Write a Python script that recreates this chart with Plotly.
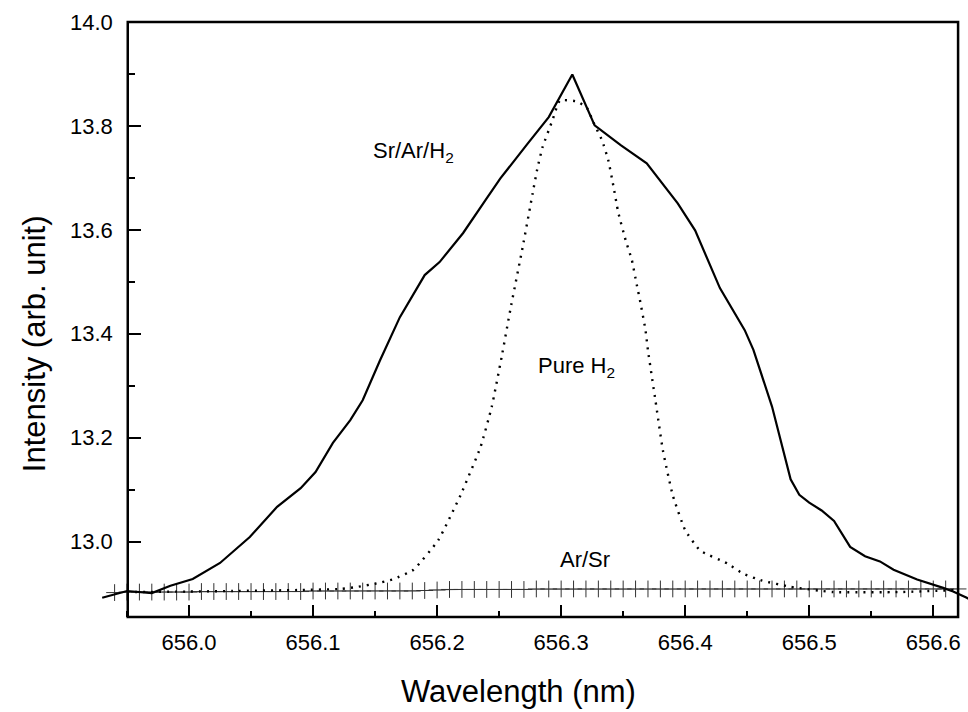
import plotly.graph_objects as go

# ---------------- data ----------------
sr_ar_h2_x = [655.930, 655.950, 655.970, 655.985, 656.003, 656.025, 656.049, 656.071, 656.090,
              656.102, 656.116, 656.130, 656.140, 656.154, 656.170, 656.190, 656.202, 656.221,
              656.239, 656.251, 656.273, 656.290, 656.309, 656.327, 656.348, 656.369, 656.394,
              656.408, 656.428, 656.448, 656.455, 656.470, 656.485, 656.492, 656.500, 656.510,
              656.520, 656.533, 656.545, 656.557, 656.568, 656.587, 656.608, 656.616,
              656.627, 656.635]
sr_ar_h2_y = [12.892, 12.905, 12.901, 12.915, 12.928, 12.959, 13.009, 13.067, 13.103,
              13.134, 13.190, 13.234, 13.272, 13.349, 13.432, 13.513, 13.538, 13.594,
              13.657, 13.699, 13.766, 13.817, 13.899, 13.801, 13.763, 13.728, 13.651,
              13.599, 13.488, 13.407, 13.369, 13.260, 13.120, 13.090, 13.075, 13.060,
              13.040, 12.990, 12.972, 12.962, 12.946, 12.927, 12.911, 12.904,
              12.892, 12.880]

pure_h2_x = [655.950, 656.000, 656.035, 656.090, 656.122, 656.136, 656.150, 656.165, 656.181,
             656.201, 656.219, 656.235, 656.244, 656.252, 656.259, 656.269, 656.277, 656.281,
             656.285, 656.293, 656.299, 656.313, 656.321, 656.326, 656.333, 656.338, 656.342,
             656.346, 656.352, 656.357, 656.361, 656.364, 656.368, 656.370, 656.376, 656.382,
             656.390, 656.400, 656.412, 656.434, 656.447, 656.462, 656.485, 656.519, 656.573,
             656.620]
pure_h2_y = [12.903, 12.904, 12.905, 12.907, 12.909, 12.913, 12.919, 12.928, 12.946,
             13.003, 13.090, 13.182, 13.259, 13.355, 13.446, 13.567, 13.670, 13.720,
             13.759, 13.811, 13.849, 13.847, 13.834, 13.807, 13.772, 13.734, 13.686,
             13.634, 13.580, 13.542, 13.494, 13.459, 13.407, 13.368, 13.272, 13.176,
             13.089, 13.022, 12.983, 12.958, 12.938, 12.925, 12.913, 12.903, 12.903,
             12.907]

ar_sr_x = [655.94, 655.95, 655.96, 655.97, 655.98, 655.99, 656.00, 656.01, 656.02, 656.03,
           656.04, 656.05, 656.06, 656.07, 656.08, 656.09, 656.10, 656.11, 656.12, 656.13,
           656.14, 656.15, 656.16, 656.17, 656.18, 656.19, 656.20, 656.21, 656.22, 656.23,
           656.24, 656.25, 656.26, 656.27, 656.28, 656.29, 656.30, 656.31, 656.32, 656.33,
           656.34, 656.35, 656.36, 656.37, 656.38, 656.39, 656.40, 656.41, 656.42, 656.43,
           656.44, 656.45, 656.46, 656.47, 656.48, 656.49, 656.50, 656.51, 656.52, 656.53,
           656.54, 656.55, 656.56, 656.57, 656.58, 656.59, 656.60, 656.61, 656.62]
ar_sr_y = [12.902, 12.903, 12.903, 12.903, 12.903, 12.903, 12.903, 12.904, 12.904, 12.904,
           12.904, 12.904, 12.904, 12.904, 12.904, 12.904, 12.905, 12.905, 12.905, 12.905,
           12.905, 12.905, 12.905, 12.905, 12.905, 12.906, 12.907, 12.908, 12.908, 12.908,
           12.908, 12.908, 12.908, 12.908, 12.909, 12.909, 12.909, 12.909, 12.909, 12.909,
           12.909, 12.909, 12.909, 12.909, 12.909, 12.909, 12.909, 12.909, 12.909, 12.909,
           12.909, 12.909, 12.909, 12.909, 12.909, 12.909, 12.909, 12.909, 12.909, 12.909,
           12.909, 12.909, 12.909, 12.909, 12.909, 12.909, 12.909, 12.909, 12.909]

x_ticks = [656.0, 656.1, 656.2, 656.3, 656.4, 656.5, 656.6]
x_minor = [655.95, 656.05, 656.15, 656.25, 656.35, 656.45, 656.55]
y_ticks = [13.0, 13.2, 13.4, 13.6, 13.8, 14.0]
y_minor = [13.1, 13.3, 13.5, 13.7, 13.9]

frame_x = [655.9506, 656.620]   # left/right of the boxed frame
x_range = [655.9242, 656.628]  # wider plot area so curves overshoot the frame
y_range = [12.855, 14.0]

labels = [
    ("Sr/Ar/H<sub>2</sub>", 656.181, 13.75),
    ("Pure H<sub>2</sub>", 656.312, 13.336),
    ("Ar/Sr", 656.319, 12.965),
]

FONT = "Liberation Sans, Arial, sans-serif"

# ---------------- figure ----------------
fig = go.Figure()

fig.add_trace(go.Scatter(
    x=ar_sr_x, y=ar_sr_y, mode="lines+markers", name="Ar/Sr",
    line=dict(color="#8a8a8a", width=1),
    marker=dict(symbol="cross-thin", size=12, line=dict(color="#333333", width=1)),
))
fig.add_trace(go.Scatter(
    x=pure_h2_x, y=pure_h2_y, mode="lines", name="Pure H2",
    line=dict(color="black", width=2.4, dash="2px,6px", shape="spline", smoothing=0.4),
))
fig.add_trace(go.Scatter(
    x=sr_ar_h2_x, y=sr_ar_h2_y, mode="lines", name="Sr/Ar/H2",
    line=dict(color="black", width=2.2),
))

ypos = (frame_x[0] - x_range[0]) / (x_range[1] - x_range[0])

fig.update_layout(
    width=968, height=712,
    margin=dict(l=95, r=0, t=22, b=95),
    paper_bgcolor="white", plot_bgcolor="white",
    showlegend=False,
    font=dict(family=FONT, color="black"),
    xaxis=dict(
        range=x_range, showgrid=False, zeroline=False, showline=False,
        tickmode="array", tickvals=x_ticks, ticktext=[f"{v:.1f}" for v in x_ticks],
        ticks="inside", ticklen=12, tickwidth=2, tickcolor="black",
        minor=dict(tickmode="array", tickvals=x_minor,
                   ticks="inside", ticklen=6, tickwidth=2, tickcolor="black"),
        tickfont=dict(size=22, family=FONT), ticklabelstandoff=10,
    ),
    yaxis=dict(
        range=y_range, showgrid=False, zeroline=False, showline=False,
        anchor="free", position=ypos,
        tickmode="array", tickvals=y_ticks, ticktext=[f"{v:.1f}" for v in y_ticks],
        ticks="inside", ticklen=12, tickwidth=2, tickcolor="black",
        minor=dict(tickmode="array", tickvals=y_minor,
                   ticks="inside", ticklen=6, tickwidth=2, tickcolor="black"),
        tickfont=dict(size=22, family=FONT), ticklabelstandoff=15,
    ),
)

fig.add_shape(type="rect", xref="x", yref="y domain",
              x0=frame_x[0], x1=frame_x[1], y0=0, y1=1,
              line=dict(color="black", width=2.5), fillcolor="rgba(0,0,0,0)", layer="above")

for text, x, y in labels:
    fig.add_annotation(x=x, y=y, xref="x", yref="y", text=text, showarrow=False,
                       font=dict(size=22, family=FONT, color="black"))

fig.add_annotation(x=656.266, y=-0.125, xref="x", yref="paper", text="Wavelength (nm)",
                   showarrow=False, yanchor="middle",
                   font=dict(size=31, family=FONT, color="black"))
fig.add_annotation(x=-0.07, y=0.46, xref="paper", yref="paper", text="Intensity (arb. unit)",
                   showarrow=False, textangle=-90, xanchor="center", yanchor="middle",
                   font=dict(size=31, family=FONT, color="black"))

fig.write_html("out.html")
